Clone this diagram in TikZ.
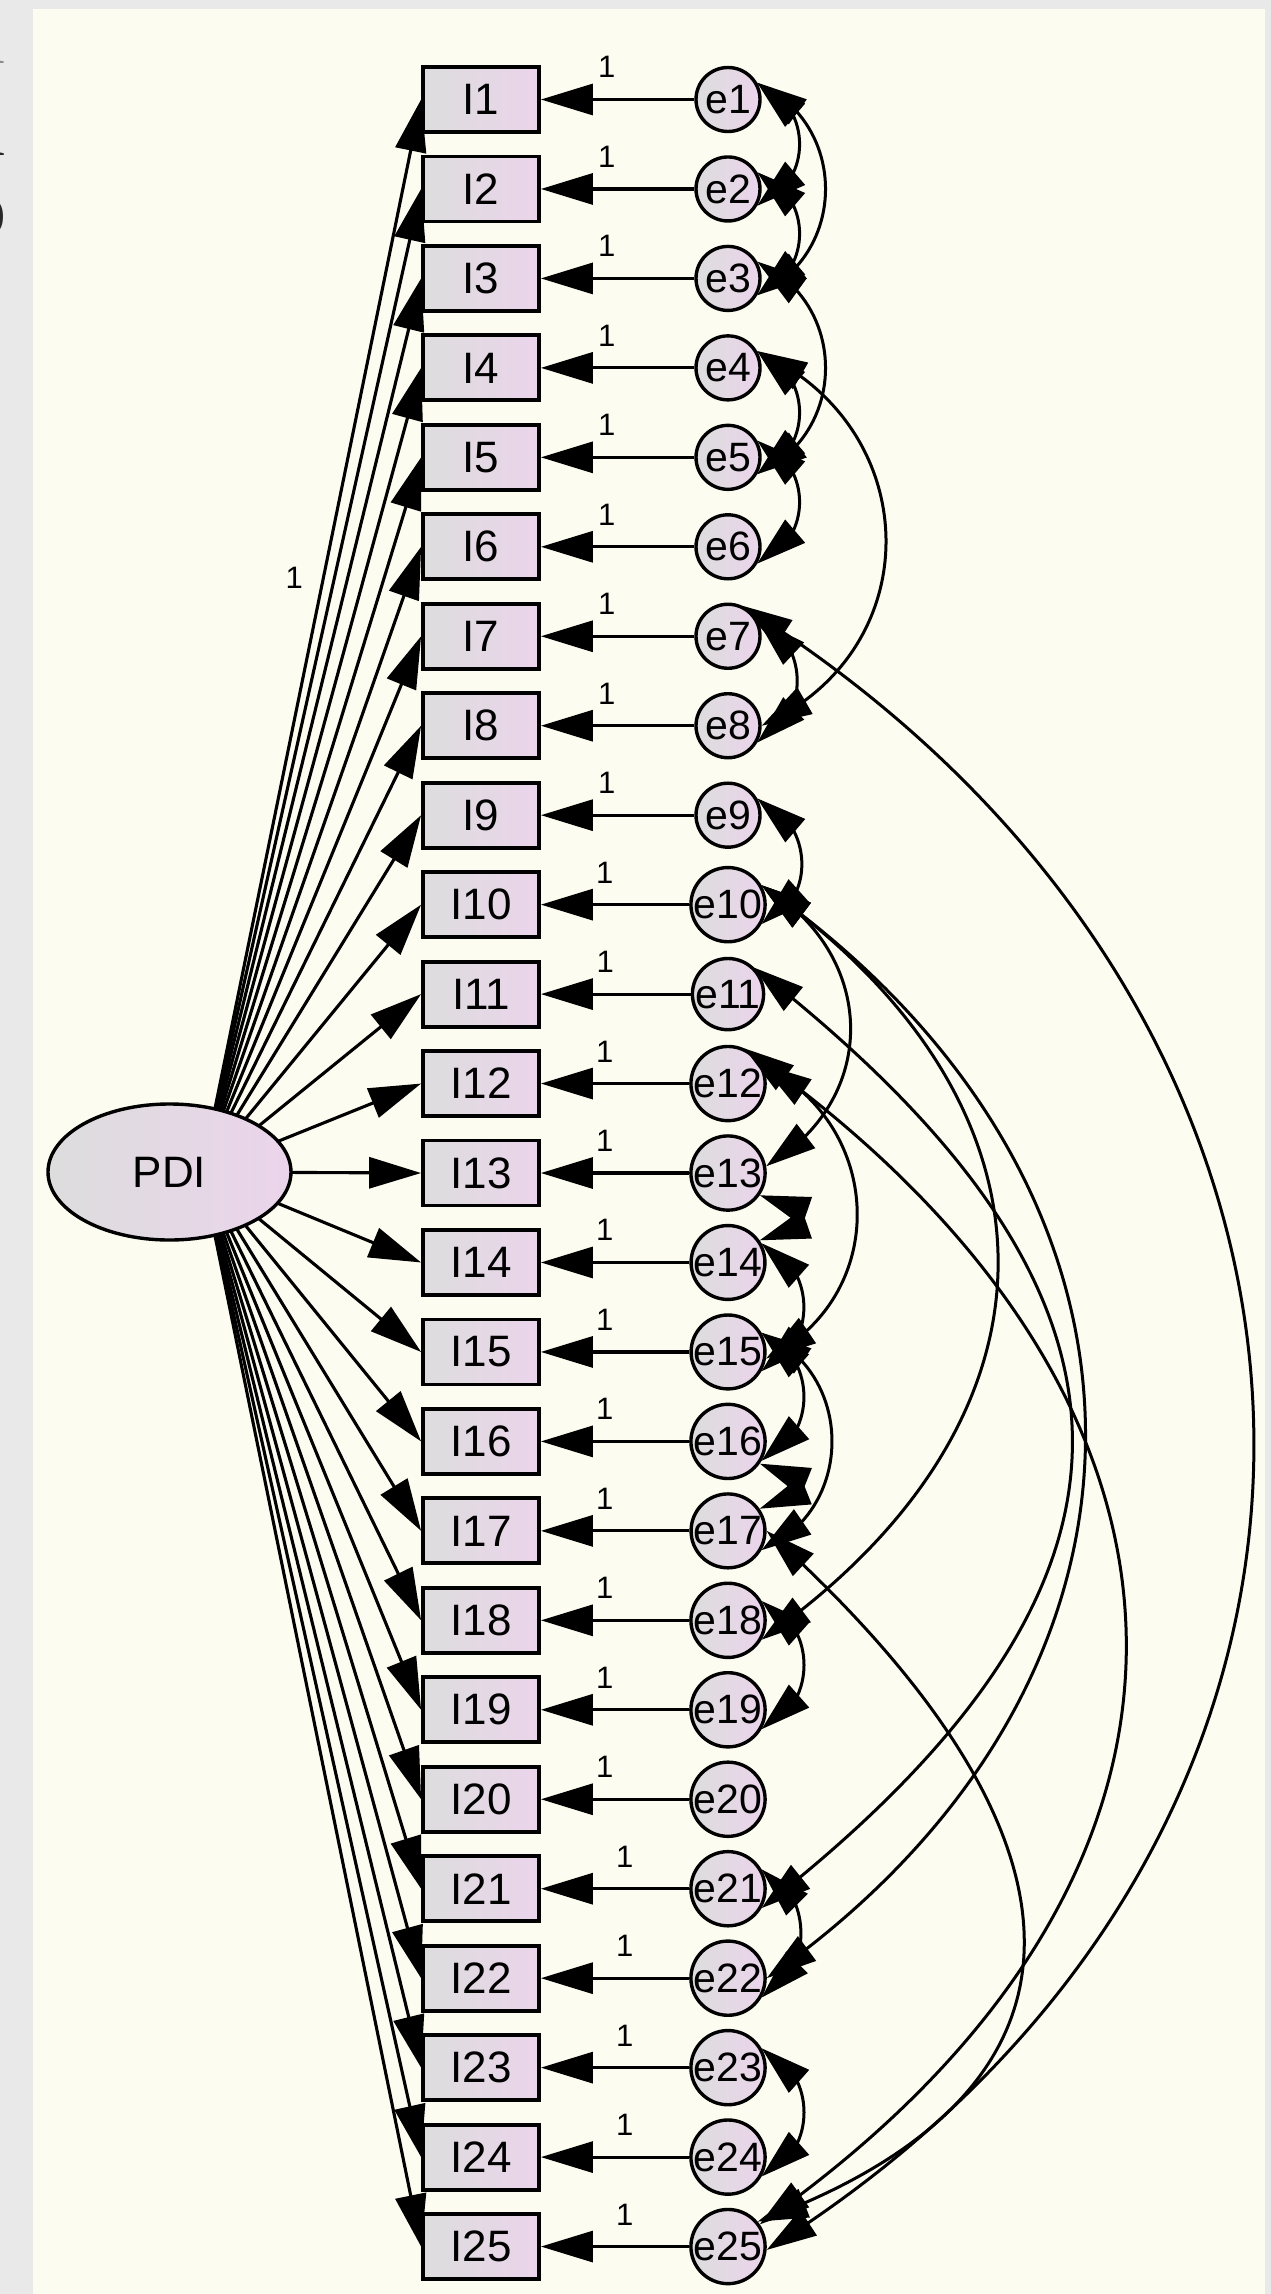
\documentclass[tikz,border=0pt]{standalone}
\usepackage{fontspec}
\setmainfont{Liberation Sans}
\newfontfamily\fragfont{Liberation Serif}
\usetikzlibrary{arrows.meta,bending,shapes.geometric}
\definecolor{bggray}{RGB}{233,233,233}
\definecolor{panel}{RGB}{252,253,240}
\definecolor{gl}{RGB}{221,221,221}
\definecolor{gr}{RGB}{235,212,235}
\begin{document}
\begin{tikzpicture}[x=1pt,y=1pt,
  item/.style={draw, line width=3.8pt, left color=gl, right color=gr, minimum width=116pt, minimum height=65pt, inner sep=0pt, font=\fontsize{44}{48}\selectfont},
  err/.style={circle, draw, line width=3.4pt, left color=gl, right color=gr, minimum size=64pt, inner sep=0pt, font=\fontsize{41}{45}\selectfont},
  lat/.style={ellipse, draw, line width=3.4pt, left color=gl, right color=gr, minimum width=243pt, minimum height=136pt, inner sep=0pt, font=\fontsize{44}{48}\selectfont},
  load/.style={line width=3.1pt, -{Triangle[length=52pt,width=31pt]}},
  cov/.style={line width=3pt, {Triangle[length=50pt,width=30pt,flex]}-{Triangle[length=50pt,width=30pt,flex]}},
  one/.style={font=\fontsize{31}{34}\selectfont, inner sep=0pt},
  frag/.style={anchor=base east, inner sep=0pt, font=\fragfont\fontsize{80}{80}\selectfont},
]
\useasboundingbox (0,0) rectangle (1271,-2294);
\fill[bggray] (0,0) rectangle (1271,-2294);
\fill[panel] (33,-9) rectangle (1265,-2294);

% cut-off letters at the left edge
\begin{scope}
\clip (0,0) rectangle (33,-2294);
\node[frag, text={rgb,255:red,140;green,140;blue,140}] (fa) at (6,-63) {l};
\node[frag, text={rgb,255:red,40;green,40;blue,40}] (fb) at (6,-155) {n};
\node[frag, text={rgb,255:red,40;green,40;blue,40}] (fc) at (7,-235) {o};
\end{scope}

% observed variables and error terms
\foreach \k in {1,...,25}{
  \pgfmathsetmacro\yy{-(99.5+(\k-1)*89.46)}
  \node[item] (I\k) at (481,\yy) {I\k};
  \node[err] (e\k) at (728,\yy) {e\k};
}

% loadings (start under the latent ellipse)
\coordinate (pc) at (202,-1172);
\draw[load] (pc) -- node[one, pos=.554, left=19pt] (lp) {1} (I1.west);
\foreach \k in {2,...,25}{
  \draw[load] (pc) -- (I\k.west);
}
\node[lat] (PDI) at (169.5,-1172) {PDI};

% error paths
\foreach \k in {1,...,20}{
  \draw[load] (e\k) -- node[one, pos=.57, above=20pt] (l\k) {1} (I\k);
}
\foreach \k in {21,...,25}{
  \draw[load] (e\k) -- node[one, pos=.434, above=20pt] (l\k) {1} (I\k);
}

% covariances: i/j/start angle/end angle/out angle/out dist/in angle/in dist
\foreach \i/\j/\sa/\ea/\ta/\ka/\tb/\kb in {
  1/2/30/-30/20.6/60.4/20.6/60.4, 2/3/30/-30/20.6/60.4/20.6/60.4,
  4/5/30/-30/20.6/60.4/20.6/60.4, 5/6/30/-30/20.6/60.4/20.6/60.4,
  7/8/30/-30/20.6/57/20.6/57, 9/10/30/-30/20.6/60.4/20.6/60.4,
  14/15/30/-30/20.6/60.4/20.6/60.4, 15/16/30/-30/20.6/60.4/20.6/60.4,
  18/19/30/-30/20.6/60.4/20.6/60.4, 21/22/30/-30/20.6/56/20.6/56,
  23/24/30/-30/20.6/60.4/20.6/60.4,
  13/14/-35/35/5/54/5/54, 16/17/-35/35/5/50/5/50,
  1/3/30/-30/24.3/100/24.3/100, 3/5/30/-30/24.3/100/24.3/100,
  4/8/30/0/24.2/185/24.2/185,
  10/13/30/10/30.4/134/30.4/134, 12/15/30/-10/26.4/139/26.4/139,
  15/17/30/-30/22.8/102/22.8/102,
  10/18/30/-30/35/385/35/385, 10/22/30/0/35/523/35/523,
  11/21/45/-30/38/532/38/532,
  12/25/65/35/35/609/35/609, 7/25/65/-5/32/785/32/785,
  17/25/0/40/42/460/20/380}{
  \draw[cov] (e\i.\sa) .. controls +(-\ta:\ka) and +(\tb:\kb) .. (e\j.\ea);
}
\end{tikzpicture}
\end{document}
